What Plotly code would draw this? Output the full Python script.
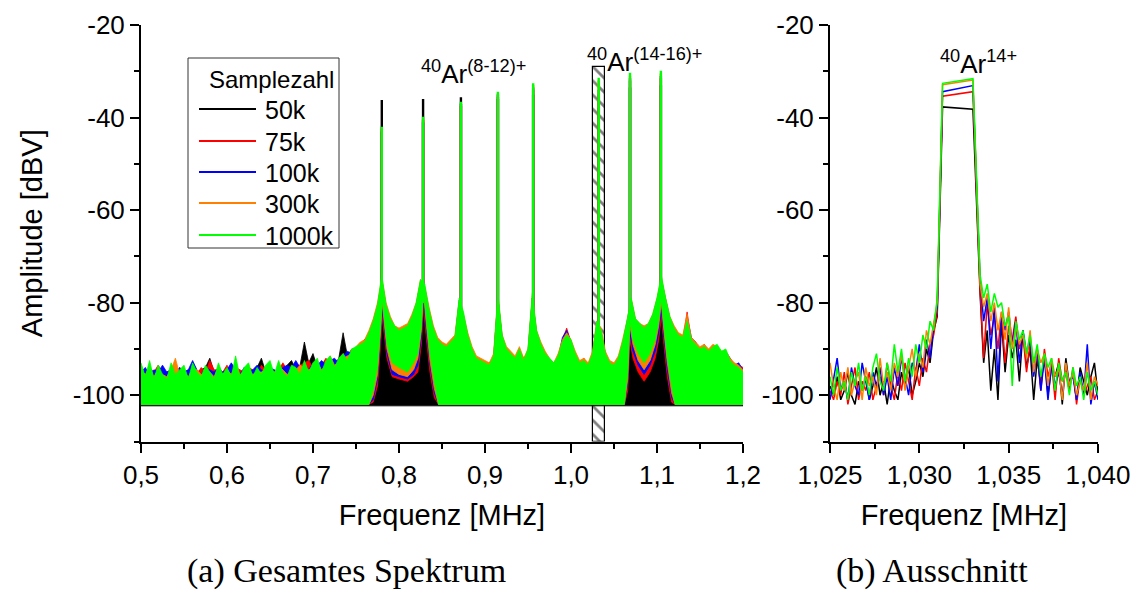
import numpy as np
import plotly.graph_objects as go

# ---------------------------------------------------------------------------
# Data
# ---------------------------------------------------------------------------
series_names = ["50k", "75k", "100k", "300k", "1000k"]
series_colors = ["#000000", "#ff0000", "#0000ff", "#ff8000", "#00ff00"]

# (a) full spectrum: upper envelope of each spectrum on a 5 kHz grid, 0.5 ... 1.2 MHz
grid_a = np.round(0.5 + 0.005 * np.arange(141), 3)

upper_50k = [
    -95.0, -96.0, -94.5, -96.5, -95.0, -96.0, -95.5, -95.0, -96.0, -95.5,
    -96.0, -95.0, -96.5, -95.0, -94.5, -94.0, -92.0, -95.0, -94.5, -96.0,
    -95.0, -94.5, -95.5, -96.0, -95.0, -94.5, -95.5, -94.0, -92.0, -95.0,
    -94.5, -95.5, -94.0, -95.0, -93.5, -92.5, -94.5, -93.5, -88.5, -93.0,
    -91.0, -94.0, -93.5, -92.5, -92.0, -93.5, -92.0, -86.5, -91.5, -91.0,
    -90.5, -90.0, -89.5, -88.0, -85.0, -82.0, -76.0, -82.0, -86.0, -89.0,
    -91.0, -92.0, -91.0, -88.0, -84.0, -77.0, -78.0, -84.0, -88.5, -90.5,
    -91.5, -92.0, -91.0, -89.5, -81.0, -85.0, -88.0, -91.0, -93.0, -93.5,
    -94.0, -94.5, -93.0, -80.0, -89.0, -92.0, -93.0, -93.5, -92.0, -94.0,
    -92.5, -80.0, -88.5, -91.0, -92.5, -93.5, -94.0, -92.5, -89.0, -86.5,
    -89.5, -92.5, -94.0, -93.5, -94.5, -92.5, -86.0, -88.0, -92.5, -94.0,
    -94.5, -93.5, -90.0, -86.0, -81.0, -87.0, -89.0, -90.0, -89.0, -86.0,
    -82.0, -76.0, -81.0, -86.0, -88.5, -90.0, -90.5, -87.0, -90.0, -91.0,
    -92.0, -91.5, -92.5, -91.5, -92.0, -91.0, -92.0, -93.5, -94.5, -94.0,
    -96.0,
]
upper_75k = [
    -94.5, -95.5, -94.0, -95.0, -93.5, -95.0, -95.0, -94.5, -95.0, -94.0,
    -95.0, -94.5, -94.5, -95.5, -94.0, -95.0, -92.5, -94.5, -94.5, -95.0,
    -93.5, -95.5, -94.0, -94.5, -95.0, -94.0, -94.5, -95.5, -93.5, -94.5,
    -94.0, -95.0, -94.5, -93.0, -94.5, -95.0, -94.0, -93.5, -93.0, -92.5,
    -94.0, -93.0, -93.5, -92.0, -93.0, -92.5, -93.0, -91.0, -91.5, -90.0,
    -90.0, -89.5, -88.0, -87.0, -84.5, -81.0, -75.0, -81.0, -84.0, -86.0,
    -87.0, -86.5, -86.0, -84.0, -81.0, -76.0, -77.0, -82.5, -86.5, -88.5,
    -89.5, -90.0, -89.0, -88.0, -80.0, -83.0, -87.5, -90.5, -92.5, -93.0,
    -93.5, -93.0, -92.0, -79.0, -88.0, -90.5, -91.5, -92.5, -90.5, -92.0,
    -91.0, -79.0, -87.0, -89.5, -91.5, -92.5, -93.5, -92.0, -88.0, -85.5,
    -88.5, -91.5, -93.5, -92.0, -94.0, -91.5, -85.0, -86.5, -91.5, -93.5,
    -94.0, -92.5, -89.0, -85.0, -80.0, -84.5, -86.0, -87.0, -86.0, -83.5,
    -80.0, -75.0, -80.0, -84.0, -86.0, -87.5, -88.0, -82.0, -88.5, -89.5,
    -90.5, -90.0, -91.0, -90.0, -90.0, -91.0, -91.0, -92.0, -94.0, -93.5,
    -94.0,
]
upper_100k = [
    -95.0, -94.0, -95.5, -94.5, -95.0, -93.5, -95.0, -94.5, -95.5, -94.0,
    -95.0, -94.5, -92.5, -94.5, -95.5, -94.0, -94.5, -95.0, -94.0, -95.0,
    -94.5, -93.0, -94.5, -95.5, -94.0, -95.0, -94.5, -93.5, -94.5, -95.5,
    -94.0, -94.5, -95.0, -94.0, -93.5, -94.0, -92.5, -94.0, -93.5, -94.5,
    -93.0, -93.5, -92.5, -93.5, -92.5, -92.0, -93.0, -91.5, -90.5, -91.0,
    -90.0, -89.0, -88.0, -87.0, -84.0, -81.0, -75.5, -81.5, -84.5, -85.5,
    -86.5, -86.0, -85.5, -83.5, -80.5, -75.5, -77.0, -82.0, -86.0, -88.5,
    -89.5, -90.0, -89.0, -88.0, -79.5, -83.0, -87.5, -90.5, -92.0, -93.0,
    -93.0, -94.0, -92.0, -79.0, -87.5, -90.5, -91.0, -92.5, -90.5, -93.0,
    -90.5, -79.0, -86.5, -89.5, -91.0, -92.5, -93.5, -92.0, -87.5, -86.0,
    -88.5, -91.5, -93.0, -93.0, -93.5, -91.5, -84.5, -86.5, -91.0, -93.5,
    -93.5, -92.5, -89.0, -84.5, -79.5, -84.0, -85.5, -86.5, -85.0, -83.0,
    -79.5, -75.0, -79.5, -83.5, -86.0, -87.0, -88.0, -83.0, -87.5, -88.5,
    -90.5, -89.0, -91.0, -89.5, -89.5, -91.0, -90.5, -92.0, -93.5, -93.0,
    -94.5,
]
upper_300k = [
    -94.5, -95.5, -94.0, -96.0, -94.5, -95.5, -96.0, -94.5, -92.0, -95.5,
    -95.0, -96.0, -94.5, -94.5, -95.5, -95.0, -95.0, -96.0, -94.0, -95.5,
    -94.5, -95.5, -93.5, -95.5, -95.0, -94.5, -95.5, -95.0, -95.0, -94.5,
    -94.5, -95.0, -94.0, -94.5, -95.5, -95.0, -94.5, -93.5, -94.0, -94.5,
    -94.0, -93.0, -94.5, -93.5, -91.5, -93.5, -93.0, -92.0, -91.5, -91.0,
    -89.5, -88.5, -88.0, -86.0, -83.5, -80.0, -74.5, -80.0, -83.0, -85.0,
    -85.5, -85.0, -84.5, -82.5, -80.0, -75.0, -76.5, -81.0, -85.0, -87.5,
    -88.5, -89.0, -88.0, -87.0, -79.5, -82.5, -86.5, -89.5, -91.5, -92.0,
    -92.5, -93.0, -91.0, -78.5, -87.0, -89.5, -90.5, -91.5, -89.5, -92.0,
    -90.0, -78.5, -86.0, -88.5, -90.5, -92.0, -93.0, -91.0, -88.0, -86.5,
    -88.0, -90.5, -92.5, -92.0, -93.0, -90.5, -84.0, -85.5, -90.5, -92.5,
    -93.0, -91.5, -88.0, -84.0, -79.0, -83.5, -84.5, -85.0, -84.5, -82.5,
    -79.0, -74.5, -79.0, -83.0, -85.0, -86.5, -87.0, -82.5, -87.5, -88.5,
    -89.5, -89.0, -90.0, -89.0, -89.5, -90.5, -90.5, -92.0, -93.0, -93.5,
    -94.5,
]
upper_1000k = [
    -93.0, -96.0, -92.5, -96.5, -93.5, -95.5, -96.5, -93.0, -95.5, -94.5,
    -93.5, -96.5, -93.0, -95.0, -96.0, -93.5, -95.0, -96.5, -93.0, -95.5,
    -94.0, -96.0, -91.5, -96.0, -94.0, -93.0, -96.0, -94.0, -95.5, -93.5,
    -92.5, -95.5, -92.5, -95.0, -96.0, -93.5, -94.0, -95.5, -92.5, -95.0,
    -93.0, -92.0, -95.0, -92.5, -91.5, -94.0, -92.0, -91.0, -92.5, -90.0,
    -89.5, -89.0, -88.5, -86.5, -84.0, -80.5, -74.0, -80.5, -83.5, -85.0,
    -86.0, -85.5, -85.0, -83.0, -80.0, -75.0, -76.0, -81.5, -85.5, -88.0,
    -89.0, -89.5, -88.5, -87.5, -79.0, -82.0, -87.0, -90.0, -92.0, -92.5,
    -93.0, -93.5, -91.5, -78.0, -87.0, -90.0, -91.0, -92.0, -90.0, -92.5,
    -90.0, -78.0, -86.0, -89.0, -91.0, -92.0, -93.0, -91.5, -88.5, -87.0,
    -88.0, -91.0, -93.0, -92.5, -93.5, -91.0, -84.0, -86.0, -91.0, -93.0,
    -93.5, -92.0, -88.5, -84.0, -79.0, -83.5, -84.5, -85.5, -84.5, -82.5,
    -79.0, -74.0, -79.0, -83.0, -85.5, -87.0, -87.5, -84.0, -88.0, -89.0,
    -90.0, -89.5, -90.5, -89.5, -89.0, -90.5, -90.0, -92.5, -93.5, -94.0,
    -95.0,
]

# lower envelope of each spectrum (breakpoints in MHz, levels in dBV)
lower_f_50k = [0.500, 1.200]
lower_db_50k = [-102.3, -102.3]
lower_f = [0.500, 0.765, 0.770, 0.775, 0.779, 0.7805, 0.783, 0.786, 0.792, 0.800, 0.810, 0.817,
           0.822, 0.826, 0.8285, 0.832, 0.836, 0.841, 0.846, 1.062,
           1.066, 1.0685, 1.072, 1.078, 1.085, 1.092, 1.098, 1.102, 1.105, 1.108, 1.112, 1.117,
           1.121, 1.200]
lower_db_75k = [-102, -102, -101.5, -98, -88, -83, -87, -92, -96, -96.5, -97, -96,
                -95, -89, -81, -88, -95, -100.5, -102, -102,
                -99, -88, -92, -95, -97, -95, -92, -88, -83, -89, -96, -101.5,
                -102, -102]
lower_db_100k = [-102, -102, -101, -96.5, -86.5, -81.5, -85.5, -91, -95.5, -96, -96.5, -95.5,
                 -93.5, -87.5, -79.5, -86.5, -93.5, -99.5, -102, -102,
                 -97.5, -86.5, -90.5, -93.5, -95.5, -93.5, -90.5, -86.5, -81.5, -87.5, -94.5, -100.5,
                 -102, -102]
lower_db_300k = [-102, -102, -100, -95.5, -85, -80, -84, -90, -94.5, -95.5, -96, -94.5,
                 -92, -86, -78, -85, -92.5, -98.5, -102, -102,
                 -96.5, -85, -89, -92.5, -94.5, -92.5, -89, -85, -80, -86, -93, -99.5,
                 -102, -102]
lower_db_1000k = [-102, -102, -99, -94, -84, -79, -83, -89, -93, -94, -95, -93,
                  -91, -85, -77, -84, -91, -97, -102, -102,
                  -95, -84, -88, -91, -93, -91, -88, -84, -79, -85, -92, -98,
                  -102, -102]

# resonance lines of 40Ar(8..16)+ : positions and peak amplitudes
peak_freqs = [0.780, 0.828, 0.872, 0.915, 0.956, 1.0322, 1.0686, 1.1045]
peak_base_db = [-80, -80, -83, -82, -82, -86, -84, -80]
peaks_50k = [-36.2, -36.0, -35.6, -36.0, -35.0, -38.0, -33.5, -33.0]
peaks_75k = [-42.5, -40.5, -37.5, -35.5, -34.0, -35.0, -32.0, -31.5]
peaks_100k = [-43.0, -41.0, -37.0, -35.0, -33.5, -34.0, -31.5, -31.0]
peaks_300k = [-42.5, -40.5, -37.0, -34.8, -33.0, -32.0, -31.0, -30.5]
peaks_1000k = [-42.0, -39.8, -36.6, -34.4, -32.6, -31.4, -30.3, -29.9]

# (b) detail 1.025 ... 1.040 MHz around the 40Ar14+ line
grid_b_low = np.round(1.025 + 0.0002 * np.arange(31), 4)    # 1.0250 ... 1.0310
grid_b_high = np.round(1.0334 + 0.0002 * np.arange(34), 4)  # 1.0334 ... 1.0400
plateau_f = [1.0313, 1.0330]

low_50k = [-98, -100, -96, -101, -99, -95, -100, -102, -97, -99, -96, -101, -98, -94, -100, -97,
           -102, -96, -99, -101, -95, -98, -94, -100, -97, -93, -96, -90, -93, -86, -83]
low_75k = [-99, -101, -97, -100, -95, -102, -98, -94, -101, -97, -99, -95, -101, -98, -96, -100,
           -93, -98, -101, -95, -99, -93, -97, -101, -94, -98, -92, -95, -89, -87, -82]
low_100k = [-101, -96, -92, -99, -97, -101, -94, -98, -100, -93, -97, -101, -95, -98, -94, -100,
            -96, -101, -94, -98, -92, -96, -100, -93, -95, -89, -95, -88, -92, -85, -81]
low_300k = [-93, -98, -101, -95, -99, -94, -100, -97, -95, -101, -94, -98, -96, -100, -92, -98,
            -95, -99, -93, -96, -91, -99, -94, -90, -96, -91, -94, -86, -89, -84, -80]
low_1000k = [-96, -100, -94, -99, -97, -101, -95, -98, -93, -99, -96, -100, -94, -91, -97, -99,
             -93, -97, -89, -95, -90, -97, -92, -96, -89, -93, -87, -90, -84, -86, -79]

plateau_50k = [-37.7, -38.2]
plateau_75k = [-35.4, -34.4]
plateau_100k = [-34.4, -33.1]
plateau_300k = [-32.9, -31.9]
plateau_1000k = [-32.6, -31.6]

high_50k = [-78, -93, -86, -99, -90, -101, -84, -95, -87, -92, -88, -97, -86, -94, -90, -101, -92,
            -98, -91, -100, -94, -96, -93, -102, -92, -98, -95, -101, -94, -97, -100, -96, -93, -100]
high_75k = [-77, -92, -80, -87, -83, -90, -82, -93, -85, -88, -83, -90, -87, -95, -89, -93, -91,
            -99, -90, -96, -93, -101, -92, -97, -95, -99, -94, -102, -96, -100, -98, -96, -101, -99]
high_100k = [-75, -84, -79, -90, -81, -97, -83, -86, -82, -89, -84, -93, -86, -91, -88, -96, -90,
             -99, -92, -101, -93, -98, -95, -100, -94, -97, -96, -101, -95, -100, -89, -102, -97, -101]
high_300k = [-76, -81, -78, -84, -80, -86, -82, -88, -81, -90, -85, -89, -87, -92, -86, -95, -90,
             -93, -91, -98, -92, -96, -94, -101, -93, -98, -95, -100, -97, -99, -93, -101, -96, -98]
high_1000k = [-74, -79, -76, -82, -78, -81, -80, -85, -83, -98, -84, -88, -86, -91, -87, -93, -89,
              -96, -91, -94, -92, -99, -93, -97, -95, -100, -94, -98, -96, -101, -95, -99, -97, -100]

# axis tick labels (German decimal comma)
ticks_a = [0.5, 0.6, 0.7, 0.8, 0.9, 1.0, 1.1, 1.2]
ticklabels_a = ["0,5", "0,6", "0,7", "0,8", "0,9", "1,0", "1,1", "1,2"]
ticks_b = [1.025, 1.030, 1.035, 1.040]
ticklabels_b = ["1,025", "1,030", "1,035", "1,040"]
ticks_y = [-100, -80, -60, -40, -20]
ticklabels_y = ["-100", "-80", "-60", "-40", "-20"]

# zoom window marked in (a)
window_f = [1.025, 1.040]
window_top_db = -29.0
y_range = [-110, -20]

# ---------------------------------------------------------------------------
uppers = [upper_50k, upper_75k, upper_100k, upper_300k, upper_1000k]
lowers = [(lower_f_50k, lower_db_50k), (lower_f, lower_db_75k), (lower_f, lower_db_100k),
          (lower_f, lower_db_300k), (lower_f, lower_db_1000k)]
peaks = [peaks_50k, peaks_75k, peaks_100k, peaks_300k, peaks_1000k]
lows = [low_50k, low_75k, low_100k, low_300k, low_1000k]
plateaus = [plateau_50k, plateau_75k, plateau_100k, plateau_300k, plateau_1000k]
highs = [high_50k, high_75k, high_100k, high_300k, high_1000k]

W, H = 1131, 593
FONT = "Liberation Sans, Arial, sans-serif"
SERIF = "Liberation Serif, Times New Roman, serif"
fig = go.Figure()

# hatched box marking the detail window
fig.add_trace(go.Bar(
    x=[(window_f[0] + window_f[1]) / 2], y=[window_top_db - y_range[0]], base=[y_range[0]],
    width=[window_f[1] - window_f[0]], xaxis="x", yaxis="y", showlegend=False,
    hoverinfo="skip",
    marker=dict(color="white", line=dict(color="black", width=1.2),
                pattern=dict(shape="\\", fgcolor="black", bgcolor="white", size=10, solidity=0.28)),
))

for name, color, up, (lo_f, lo_db), pk in zip(series_names, series_colors, uppers, lowers, peaks):
    # noise band: upper envelope forward, lower envelope back
    xs = list(grid_a) + list(lo_f)[::-1]
    ys = list(up) + list(lo_db)[::-1]
    fig.add_trace(go.Scatter(
        x=xs, y=ys, mode="lines", fill="toself", fillcolor=color,
        line=dict(color=color, width=0.8), xaxis="x", yaxis="y",
        showlegend=False, hoverinfo="skip",
    ))
    # resonance lines
    px, py = [], []
    for f, base, top in zip(peak_freqs, peak_base_db, pk):
        px += [f, f, None]
        py += [base, top, None]
    fig.add_trace(go.Scatter(
        x=px, y=py, mode="lines", line=dict(color=color, width=2.4),
        xaxis="x", yaxis="y", showlegend=False, hoverinfo="skip",
    ))

for name, color, lo, pl, hi in zip(series_names, series_colors, lows, plateaus, highs):
    fig.add_trace(go.Scatter(
        x=list(grid_b_low) + plateau_f + list(grid_b_high),
        y=list(lo) + list(pl) + list(hi),
        mode="lines", line=dict(color=color, width=1.5),
        name=name, xaxis="x2", yaxis="y2", showlegend=False,
    ))

axis_common = dict(
    showgrid=False, zeroline=False, showline=True, linecolor="black", linewidth=2,
    ticks="outside", ticklen=9, tickwidth=2, tickcolor="black",
    tickfont=dict(family=FONT, size=26, color="black"),
    mirror=False, automargin=False,
)
minor = dict(ticks="outside", ticklen=5, tickwidth=1.5, tickcolor="black", showgrid=False)
title_font = dict(family=FONT, size=29, color="black")
y_dom = [1 - 441.5 / H, 1 - 25 / H]

fig.update_layout(
    width=W, height=H,
    margin=dict(l=0, r=0, t=0, b=0, pad=0),
    paper_bgcolor="white", plot_bgcolor="white",
    font=dict(family=FONT, color="black"),
    bargap=0, showlegend=False,
    xaxis=dict(domain=[141 / W, 743 / W], range=[0.5, 1.2], anchor="y",
               tickvals=ticks_a, ticktext=ticklabels_a,
               minor=dict(dtick=0.05, **minor),
               title=dict(text="Frequenz [MHz]", font=title_font, standoff=16),
               **axis_common),
    yaxis=dict(domain=y_dom, range=y_range, anchor="x",
               tickvals=ticks_y, ticktext=ticklabels_y,
               minor=dict(dtick=10, **minor),
               title=dict(text="Amplitude [dBV]", font=title_font, standoff=22),
               **axis_common),
    xaxis2=dict(domain=[830 / W, 1098 / W], range=[1.025, 1.040], anchor="y2",
                tickvals=ticks_b, ticktext=ticklabels_b,
                minor=dict(dtick=0.0025, **minor),
                title=dict(text="Frequenz [MHz]", font=title_font, standoff=16),
                **axis_common),
    yaxis2=dict(domain=y_dom, range=y_range, anchor="x2",
                tickvals=ticks_y, ticktext=ticklabels_y,
                minor=dict(dtick=10, **minor),
                **axis_common),
)

# ion labels
for x, y, ax, ay, text in [
    (0.887, -30.2, "x", "y", "<sup>40</sup>Ar<sup>(8-12)+</sup>"),
    (1.086, -27.6, "x", "y", "<sup>40</sup>Ar<sup>(14-16)+</sup>"),
    (1.0333, -28.0, "x2", "y2", "<sup>40</sup>Ar<sup>14+</sup>"),
]:
    fig.add_annotation(x=x, y=y, xref=ax, yref=ay, text=text, showarrow=False,
                       xanchor="center", yanchor="middle",
                       font=dict(family=FONT, size=26, color="black"))

# legend box "Samplezahl"
box_l, box_t, box_r, box_b = 188, 58, 339, 248
fig.add_shape(type="rect", xref="paper", yref="paper",
              x0=box_l / W, x1=box_r / W, y0=1 - box_b / H, y1=1 - box_t / H,
              line=dict(color="#333333", width=1), fillcolor="white", layer="above")
fig.add_annotation(x=207 / W, y=1 - 79 / H, xref="paper", yref="paper",
                   xanchor="left", yanchor="middle",
                   text="Samplezahl", showarrow=False, font=dict(family=FONT, size=24, color="black"))
row_y = [109, 141, 172, 203, 235]
for name, color, yy in zip(series_names, series_colors, row_y):
    fig.add_shape(type="line", xref="paper", yref="paper", layer="above",
                  x0=199 / W, x1=256 / W, y0=1 - yy / H, y1=1 - yy / H,
                  line=dict(color=color, width=2))
    fig.add_annotation(x=263 / W, y=1 - (yy + 1) / H, xref="paper", yref="paper",
                       xanchor="left", yanchor="middle",
                       text=name, showarrow=False, font=dict(family=FONT, size=25, color="black"))

# sub-figure captions
for cx, caption in [(346, "(a) Gesamtes Spektrum"), (932, "(b) Ausschnitt")]:
    fig.add_annotation(x=cx / W, y=1 - 571 / H, xref="paper", yref="paper",
                       xanchor="center", yanchor="middle",
                       text=caption, showarrow=False,
                       font=dict(family=SERIF, size=34, color="black"))

fig.write_html("out.html")
